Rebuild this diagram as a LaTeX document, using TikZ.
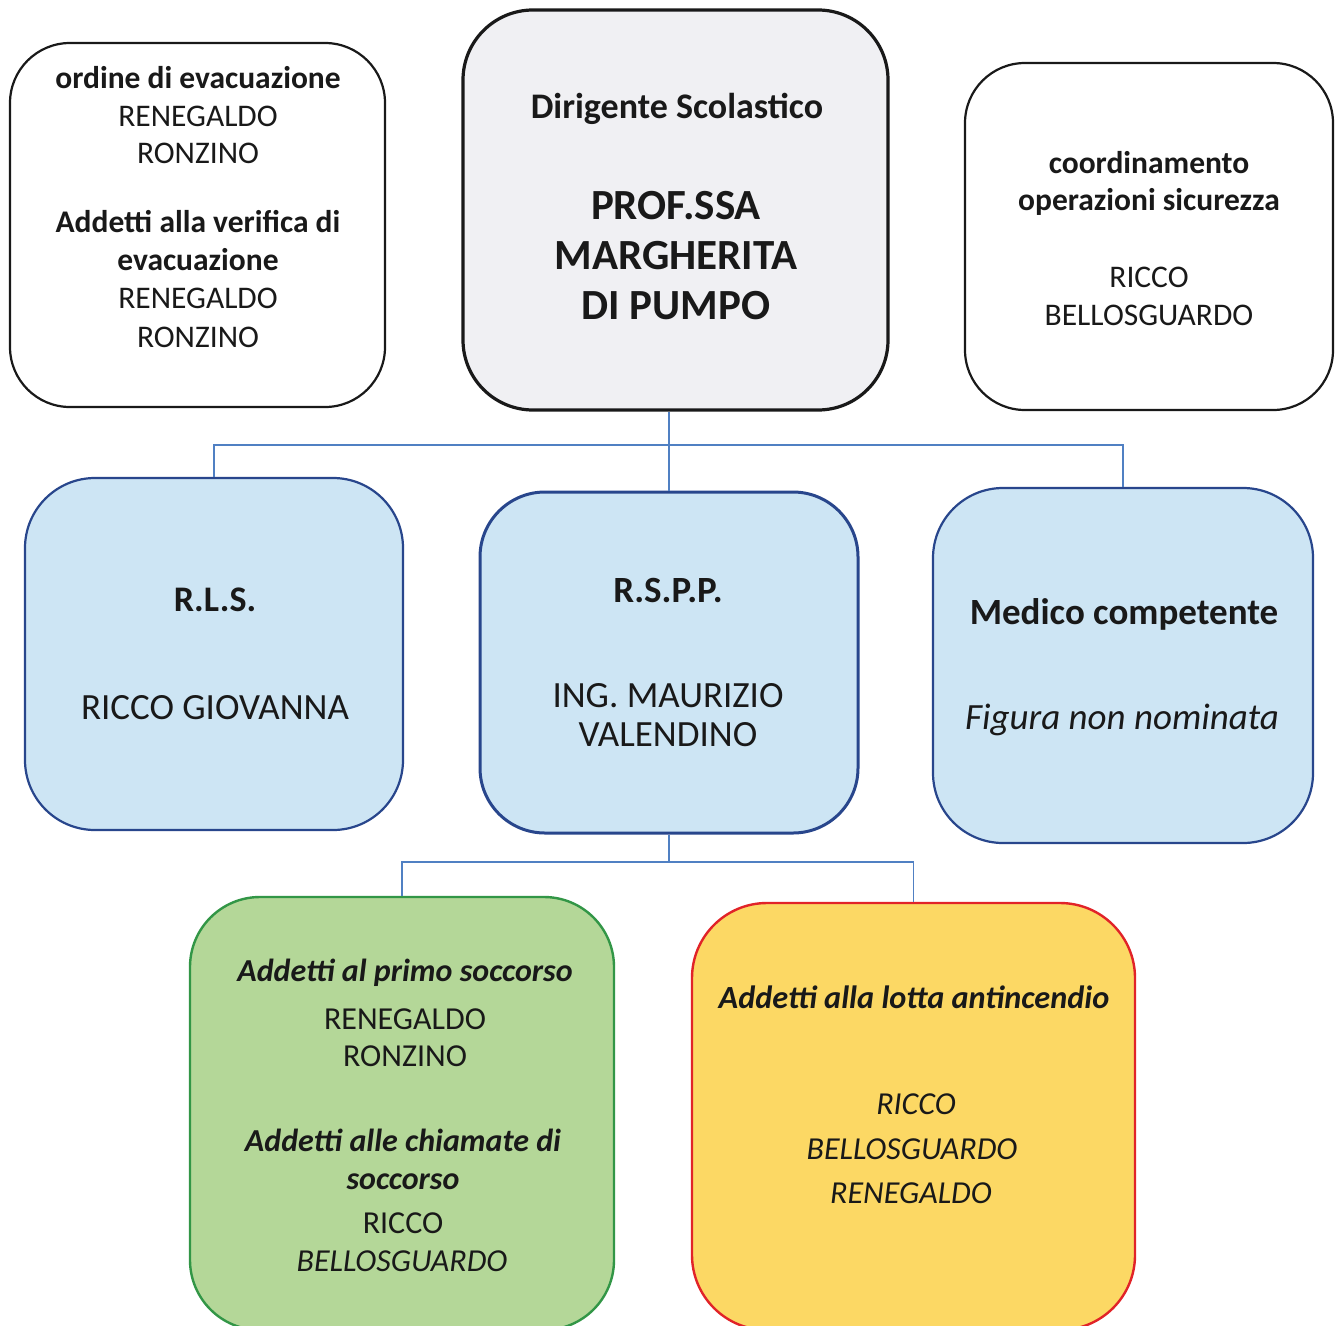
\documentclass[tikz,border=0pt]{standalone}
\usepackage{fontspec}
\setmainfont{Carlito}
\definecolor{lineblue}{RGB}{80,128,195}
\definecolor{boxblue}{RGB}{205,229,244}
\definecolor{edgeblue}{RGB}{40,70,140}
\definecolor{boxgray}{RGB}{240,240,243}
\definecolor{boxgreen}{RGB}{180,215,152}
\definecolor{edgegreen}{RGB}{50,150,70}
\definecolor{boxyellow}{RGB}{252,216,100}
\definecolor{edgered}{RGB}{225,35,40}
\tikzset{
  wbox/.style={draw=black!90, line width=2.2pt, fill=white, inner sep=0pt},
  gbox/.style={draw=black!90, line width=3.2pt, fill=boxgray, inner sep=0pt},
  bbox/.style={draw=edgeblue, line width=2.2pt, fill=boxblue, inner sep=0pt},
  grbox/.style={draw=edgegreen, line width=2.4pt, fill=boxgreen, inner sep=0pt},
  ybox/.style={draw=edgered, line width=2.4pt, fill=boxyellow, inner sep=0pt},
  conn/.style={draw=lineblue, line width=1.4pt},
  txt/.style={anchor=base, inner sep=0pt, text=black!90},
  fs/.style={font=\fontsize{#1}{#1}\selectfont},
  fsb/.style={font=\fontsize{#1}{#1}\selectfont\bfseries},
  fsi/.style={font=\fontsize{#1}{#1}\selectfont\itshape},
  fsbi/.style={font=\fontsize{#1}{#1}\selectfont\bfseries\itshape},
}
\begin{document}
\begin{tikzpicture}[x=1pt,y=1pt]
\useasboundingbox (0,0) rectangle (1337,-1325);
\clip (0,0) rectangle (1337,-1325);
\fill[white] (0,0) rectangle (1337,-1325);

% boxes
\node[wbox, rounded corners=60pt, minimum width=375pt, minimum height=364pt] (evac) at (197.5,-225) {};
\node[gbox, rounded corners=70pt, minimum width=425pt, minimum height=400pt] (ds) at (675.5,-210) {};
\node[wbox, rounded corners=60pt, minimum width=368pt, minimum height=347pt] (coord) at (1149,-236.5) {};
\node[bbox, rounded corners=70pt, minimum width=378pt, minimum height=352pt] (rls) at (214,-654) {};
\node[bbox, line width=3pt, rounded corners=65pt, minimum width=378pt, minimum height=341pt] (rspp) at (669,-662.5) {};
\node[bbox, rounded corners=70pt, minimum width=380pt, minimum height=355pt] (med) at (1123,-665.5) {};
\node[grbox, rounded corners=70pt, minimum width=424pt, minimum height=433pt] (ps) at (402,-1113.5) {};
\node[ybox, rounded corners=75pt, minimum width=443pt, minimum height=427pt] (ai) at (913.5,-1116.5) {};

% connectors
\coordinate (j1) at (669,-445);
\coordinate (j2) at (669,-862);
\draw[conn] (ds.south -| rspp.north) -- (rspp.north);
\draw[conn] (rls.north) |- (j1) -| (med.north);
\draw[conn] (rspp.south) -- (j2);
\draw[conn] (ps.north) |- (j2) -| (ai.north);

% box 1 text
\node[txt, fsb=31.5] (e1) at (198,-88) {ordine di evacuazione};
\node[txt, fs=31.5] (e2) at (198,-126) {RENEGALDO};
\node[txt, fs=31.5] (e3) at (198,-163) {RONZINO};
\node[txt, fsb=31.5] (e4) at (198,-232) {Addetti alla verifica di};
\node[txt, fsb=31.5] (e5) at (198,-270) {evacuazione};
\node[txt, fs=31.5] (e6) at (198,-308) {RENEGALDO};
\node[txt, fs=31.5] (e7) at (198,-347) {RONZINO};

% box 2 text
\node[txt, fsb=36] (d1) at (677,-118) {Dirigente Scolastico};
\node[txt, fsb=43] (d2) at (676,-219) {PROF.SSA};
\node[txt, fsb=43] (d3) at (676,-269) {MARGHERITA};
\node[txt, fsb=43] (d4) at (676,-319) {DI PUMPO};

% box 3 text
\node[txt, fsb=31.5] (c1) at (1149,-173) {coordinamento};
\node[txt, fsb=31.5] (c2) at (1149,-210) {operazioni sicurezza};
\node[txt, fs=31.5] (c3) at (1149,-287) {RICCO};
\node[txt, fs=31.5] (c4) at (1149,-325) {BELLOSGUARDO};

% blue boxes text
\node[txt, fsb=36] (r1) at (215,-611) {R.L.S.};
\node[txt, fs=37] (r2) at (215,-719) {RICCO GIOVANNA};
\node[txt, fsb=37] (s1) at (668,-602) {R.S.P.P.};
\node[txt, fs=37] (s2) at (668,-707) {ING. MAURIZIO};
\node[txt, fs=37] (s3) at (668,-746) {VALENDINO};
\node[txt, fsb=37] (m1) at (1124,-624) {Medico competente};
\node[txt, fsi=37] (m2) at (1122,-729) {Figura non nominata};

% green box text
\node[txt, fsbi=32] (p1) at (405,-981) {Addetti al primo soccorso};
\node[txt, fs=32] (p2) at (405,-1029) {RENEGALDO};
\node[txt, fs=32] (p3) at (405,-1066) {RONZINO};
\node[txt, fsbi=32] (p4) at (403,-1151) {Addetti alle chiamate di};
\node[txt, fsbi=32] (p5) at (403,-1189) {soccorso};
\node[txt, fs=32] (p6) at (403,-1233) {RICCO};
\node[txt, fsi=32] (p7) at (402,-1271) {BELLOSGUARDO};

% yellow box text
\node[txt, fsbi=32.3] (a1) at (914,-1008) {Addetti alla lotta antincendio};
\node[txt, fsi=32] (a2) at (916,-1114) {RICCO};
\node[txt, fsi=32] (a3) at (912,-1159) {BELLOSGUARDO};
\node[txt, fsi=32] (a4) at (911,-1203) {RENEGALDO};
\end{tikzpicture}
\end{document}
